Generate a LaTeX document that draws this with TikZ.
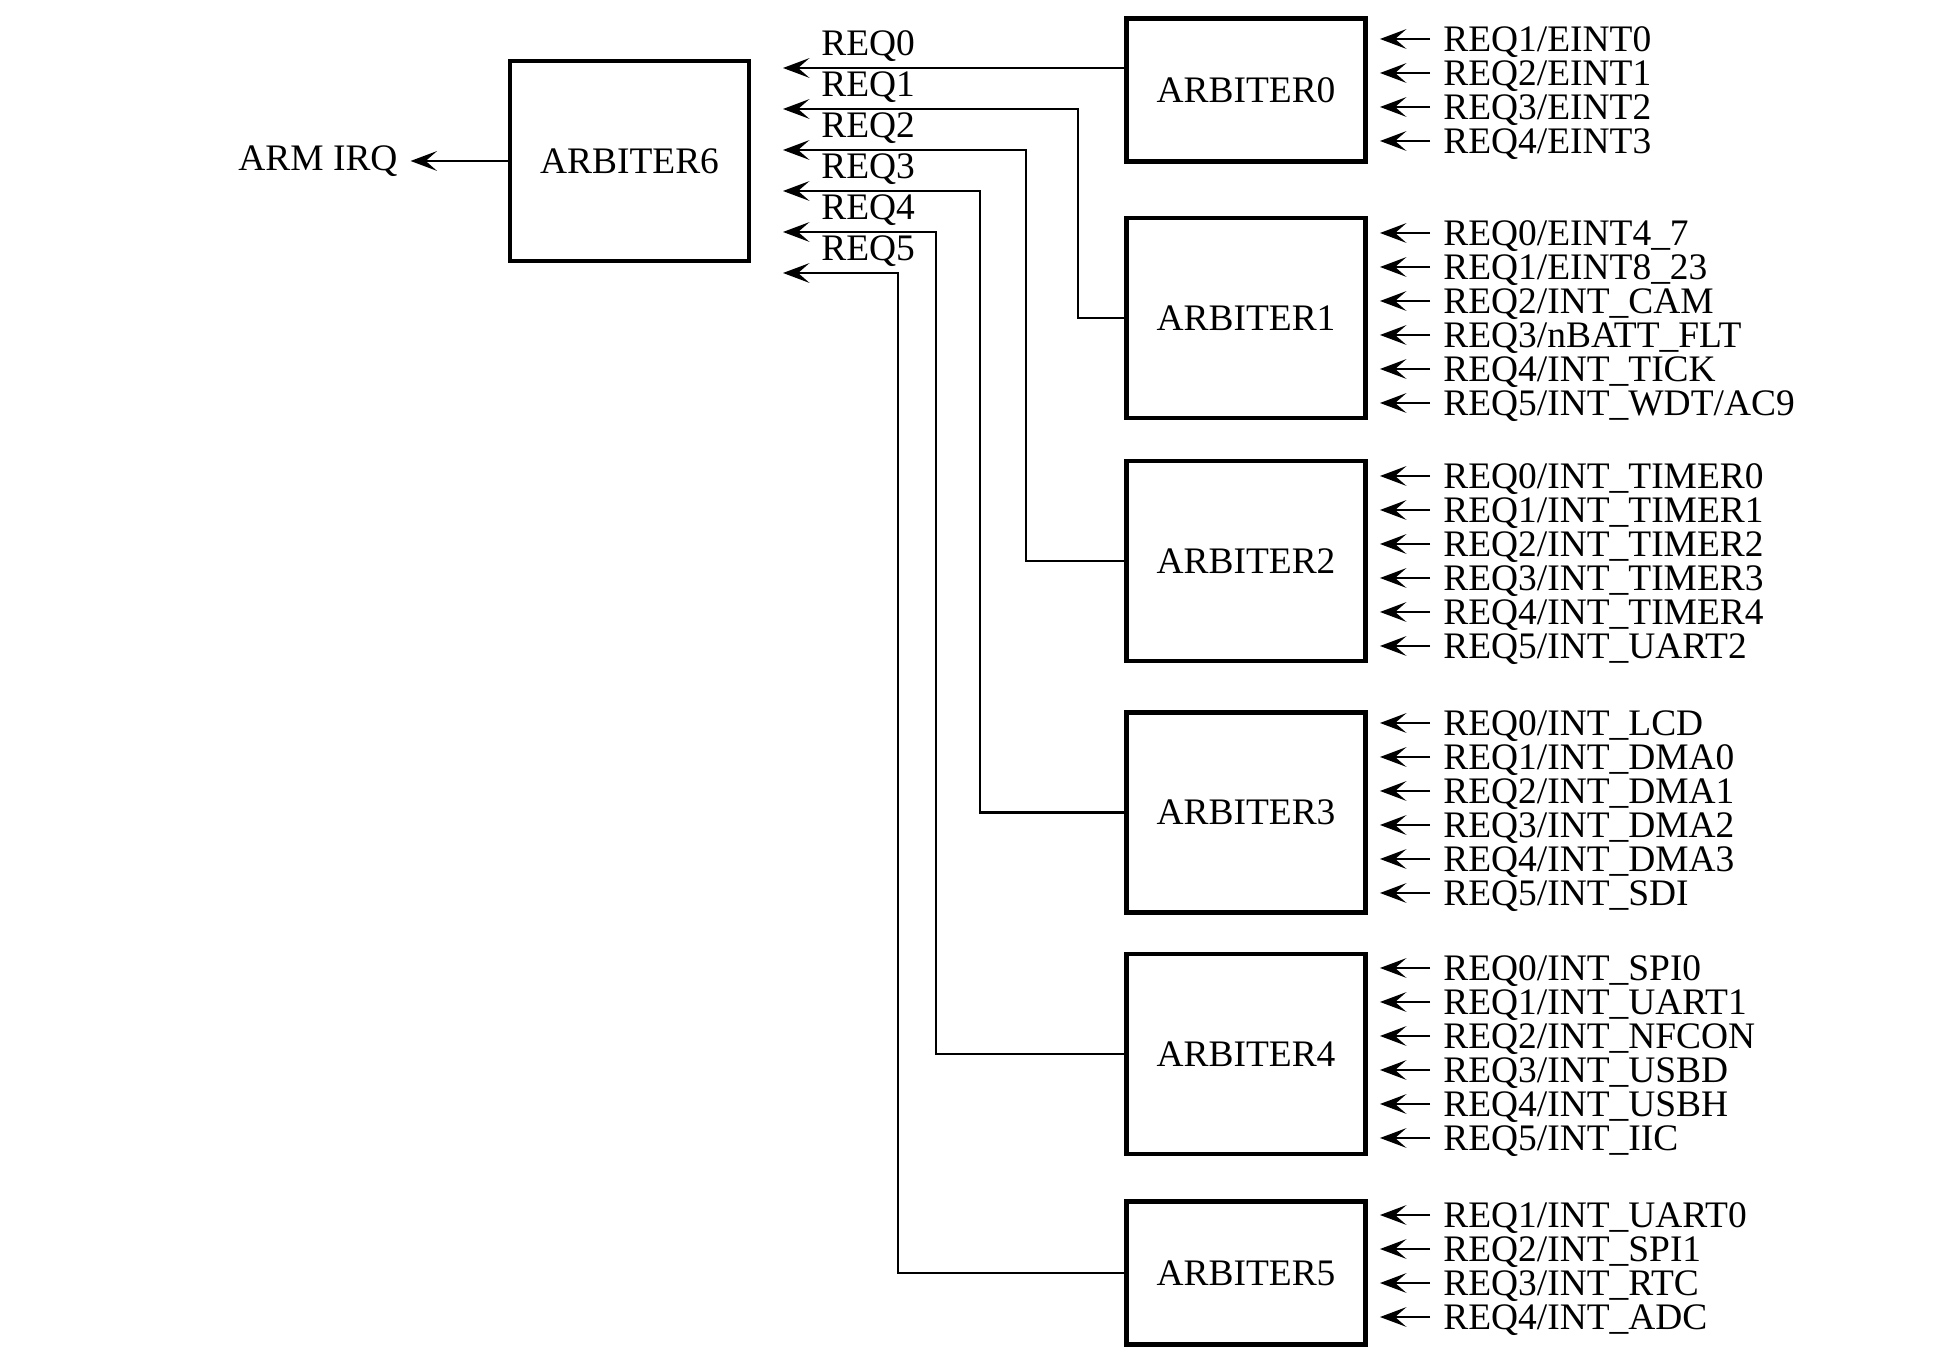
\documentclass[tikz,border=0pt]{standalone}
\usepackage{fontspec}
\setmainfont{Liberation Serif}
\usetikzlibrary{arrows.meta,positioning}

\tikzset{
  arb/.style={draw, line width=1.4pt, minimum width=2.39cm, minimum height=2cm, inner sep=0pt},
  inlbl/.style={anchor=west, inner xsep=0.12cm, inner ysep=0pt, text height=7pt, text depth=0pt},
  >={Stealth[length=7.5pt,width=5.6pt,inset=3.2pt]},
}

% one row of request inputs per arbiter
\newcommand{\reqinputs}[3]{%
  \foreach \t [count=\k] in {#3} {
    \node[inlbl] (#1-\k) at (14.30,{#2-0.34*(\k-1)}) {\t};
    \draw[->, shorten >=0.12cm] (#1-\k.west) -- (#1-\k.west -| #1.east);
  }}

\begin{document}
\begin{tikzpicture}[font=\fontsize{10.65}{12}\selectfont, line width=0.75pt]
  \useasboundingbox (0,0) rectangle (19.55,13.54);

  \node[arb] (arb6) at (6.295,11.93) {ARBITER6};
  \node[arb, minimum height=1.43cm] (arb0) at (12.46,12.64) {ARBITER0};
  \node[arb] (arb1) at (12.46,10.36) {ARBITER1};
  \node[arb] (arb2) at (12.46,7.93) {ARBITER2};
  \node[arb] (arb3) at (12.46,5.415) {ARBITER3};
  \node[arb] (arb4) at (12.46,3.00) {ARBITER4};
  \node[arb, minimum height=1.43cm] (arb5) at (12.46,0.81) {ARBITER5};

  \node[left=0.97cm of arb6] (irq) {ARM IRQ};
  \draw[->] (arb6) -- (irq);

  % REQ0..REQ5 into ARBITER6
  \foreach \i in {0,...,5} {
    \coordinate (req\i) at (7.83,{12.86-0.41*\i});
    \node[anchor=base west, inner sep=0pt] (reqlbl\i) at ([shift={(0.37,0.12)}]req\i) {REQ\i};
  }
  \draw[->] (arb0.west |- req0) -- (req0);
  \foreach \i/\dx in {1/0.46,2/0.98,3/1.44,4/1.88,5/2.26}
    \draw[->] (arb\i.west) -- ++(-\dx,0) |- (req\i);

  \reqinputs{arb0}{13.15}{{REQ1/EINT0},{REQ2/EINT1},{REQ3/EINT2},{REQ4/EINT3}}
  \reqinputs{arb1}{11.21}{{REQ0/EINT4\_7},{REQ1/EINT8\_23},{REQ2/INT\_CAM},{REQ3/nBATT\_FLT},{REQ4/INT\_TICK},{REQ5/INT\_WDT/AC9}}
  \reqinputs{arb2}{8.78}{{REQ0/INT\_TIMER0},{REQ1/INT\_TIMER1},{REQ2/INT\_TIMER2},{REQ3/INT\_TIMER3},{REQ4/INT\_TIMER4},{REQ5/INT\_UART2}}
  \reqinputs{arb3}{6.31}{{REQ0/INT\_LCD},{REQ1/INT\_DMA0},{REQ2/INT\_DMA1},{REQ3/INT\_DMA2},{REQ4/INT\_DMA3},{REQ5/INT\_SDI}}
  \reqinputs{arb4}{3.86}{{REQ0/INT\_SPI0},{REQ1/INT\_UART1},{REQ2/INT\_NFCON},{REQ3/INT\_USBD},{REQ4/INT\_USBH},{REQ5/INT\_IIC}}
  \reqinputs{arb5}{1.39}{{REQ1/INT\_UART0},{REQ2/INT\_SPI1},{REQ3/INT\_RTC},{REQ4/INT\_ADC}}
\end{tikzpicture}
\end{document}
